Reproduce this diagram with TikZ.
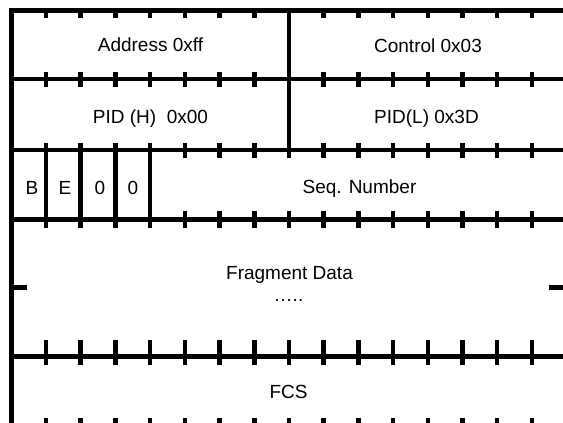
\documentclass[tikz,border=0pt]{standalone}
\usepackage{fontspec}
\setmainfont{Liberation Sans}
\begin{document}
\begin{tikzpicture}[x=1pt,y=-1pt,
  rule/.style={line width=4.5pt},
  lbl/.style={anchor=base, inner sep=0pt, font=\fontsize{19}{22}\selectfont}]
\useasboundingbox (0,0) rectangle (563,423);
\clip (0,0) rectangle (563,423);
\def\xo{11.3}
\def\xs{34.71}
% horizontal rules
\foreach \yy in {10.5,79,150,219.5,356.5,425}
  \draw[rule] (\xo-2.25,\yy) -- (\xo+16*\xs+2.25,\yy);
% outer verticals
\draw[rule] (\xo,8.25) -- (\xo,430);
\draw[rule] (\xo+16*\xs,8.25) -- (\xo+16*\xs,430);
% byte divider rows 1-2
\draw[rule] (\xo+8*\xs,10.5) -- (\xo+8*\xs,150);
% flag dividers row 3
\foreach \k in {1,...,4}
  \draw[rule] (\xo+\k*\xs,150) -- (\xo+\k*\xs,219.5);
% ticks
\foreach \k in {1,...,15}{
  \draw[rule] (\xo+\k*\xs,10.5) -- (\xo+\k*\xs,18);
  \draw[rule] (\xo+\k*\xs,71.5) -- (\xo+\k*\xs,86.5);
  \draw[rule] (\xo+\k*\xs,142.5) -- (\xo+\k*\xs,157.5);
  \draw[rule] (\xo+\k*\xs,211) -- (\xo+\k*\xs,228);
  \draw[rule] (\xo+\k*\xs,340) -- (\xo+\k*\xs,365);
  \draw[rule] (\xo+\k*\xs,418) -- (\xo+\k*\xs,430);
}
% fragment data side ticks
\draw[rule] (\xo,287.5) -- (27,287.5);
\draw[rule] (549,287.5) -- (\xo+16*\xs,287.5);
% labels
\node[lbl] (addr) at (150.5,52) {Address 0xff};
\node[lbl] (ctrl) at (428,52.5) {Control 0x03};
\node[lbl] (pidh) at (150.5,123) {PID (H)\ \ 0x00};
\node[lbl] (pidl) at (426.5,123) {PID(L) 0x3D};
\node[lbl] (fb) at (32,194.5) {B};
\node[lbl] (fe) at (65,194.5) {E};
\node[lbl] (f0a) at (100,194.5) {0};
\node[lbl] (f0b) at (133,194.5) {0};
\node[lbl] (seq) at (359.5,193) {Seq. Number};
\node[lbl] (frag) at (289.5,279) {Fragment Data};
\node[lbl] (dots) at (288.5,301.5) {…..};
\node[lbl] (fcs) at (288.5,398) {FCS};
\end{tikzpicture}
\end{document}
